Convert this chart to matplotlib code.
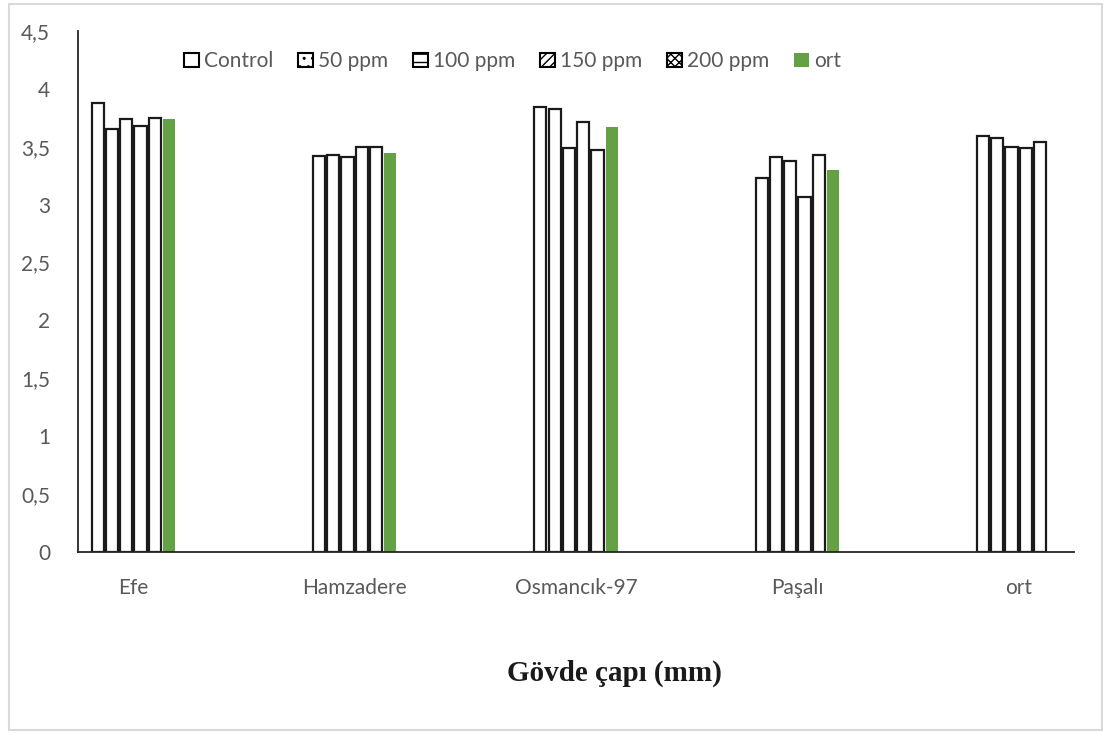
import matplotlib.pyplot as plt
from matplotlib.patches import Patch, Rectangle
import numpy as np

categories = ["Efe", "Hamzadere", "Osmancık-97", "Paşalı", "ort"]
series_names = ["Control", "50 ppm", "100 ppm", "150 ppm", "200 ppm", "ort"]
control = [3.88, 3.42, 3.84, 3.23, 3.59]
ppm50 = [3.65, 3.43, 3.83, 3.41, 3.58]
ppm100 = [3.74, 3.41, 3.49, 3.38, 3.50]
ppm150 = [3.68, 3.50, 3.71, 3.07, 3.49]
ppm200 = [3.75, 3.50, 3.47, 3.43, 3.54]
ort = [3.74, 3.45, 3.67, 3.30, np.nan]
y_ticks = [0, 0.5, 1, 1.5, 2, 2.5, 3, 3.5, 4, 4.5]
y_labels = ["0", "0,5", "1", "1,5", "2", "2,5", "3", "3,5", "4", "4,5"]

series = [control, ppm50, ppm100, ppm150, ppm200, ort]
hatches = ["", "..", "--", "////", "xxxx", ""]

plt.rcParams['font.family'] = ['Lato', 'DejaVu Sans']
txt_color = "#595959"

fig = plt.figure(figsize=(11.05, 7.33), dpi=100)
ax = fig.add_axes([0.0706, 0.2469, 0.9014, 0.7108])

# light frame around the whole chart
fig.patches.append(Rectangle((0.008, 0.004), 0.989, 0.991, transform=fig.transFigure,
                             fill=False, edgecolor="#D9D9D9", linewidth=1.5))

x = np.arange(len(categories))
slot = 0.0645
bw = 0.055
for i, vals in enumerate(series):
    pos = x + (i - 2.5) * slot
    if i == 5:
        ax.bar(pos, vals, width=bw, color="#64A044", edgecolor="none")
    else:
        ax.bar(pos, vals, width=bw, color="white", edgecolor="#1a1a1a", linewidth=1.6)

ax.set_xlim(-0.25, 4.25)
ax.set_ylim(0, 4.5)
ax.set_yticks(y_ticks)
ax.set_yticklabels(y_labels)
ax.set_xticks(x)
ax.set_xticklabels(categories)
ax.tick_params(axis="both", length=0, labelsize=15, colors=txt_color)
ax.tick_params(axis="y", pad=20)
ax.tick_params(axis="x", pad=19)
for s in ["top", "right"]:
    ax.spines[s].set_visible(False)
for s in ["left", "bottom"]:
    ax.spines[s].set_color("#262626")
    ax.spines[s].set_linewidth(1.3)

handles = []
for i, name in enumerate(series_names):
    if i == 5:
        handles.append(Patch(facecolor="#64A044", edgecolor="none", label=name))
    else:
        handles.append(Patch(facecolor="white", edgecolor="black", hatch=hatches[i],
                             linewidth=1.5, label=name))
leg = ax.legend(handles=handles, loc="upper left", bbox_to_anchor=(0.094, 0.985), ncol=6,
                frameon=False, fontsize=15, handlelength=0.7, handleheight=0.7,
                handletextpad=0.25, columnspacing=1.2, labelcolor=txt_color,
                borderaxespad=0.2)

fig.text(0.556, 0.081, "Gövde çapı (mm)", ha="center", va="center",
         fontsize=21, fontweight="bold", family="Liberation Serif", color="#1a1a1a")

fig.savefig("out.png", dpi=100)
